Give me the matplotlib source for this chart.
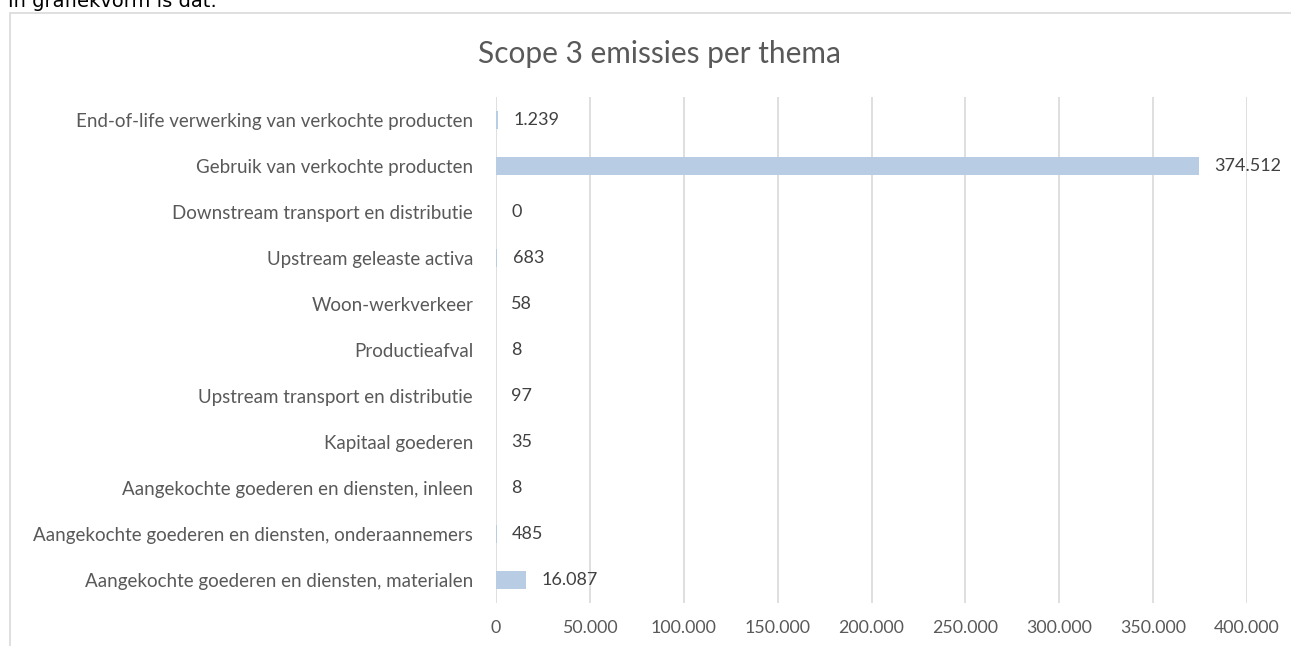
import matplotlib
matplotlib.use("Agg")
import matplotlib.pyplot as plt
from matplotlib.patches import Rectangle
from matplotlib.ticker import FuncFormatter

categories = [
    "Aangekochte goederen en diensten, materialen",
    "Aangekochte goederen en diensten, onderaannemers",
    "Aangekochte goederen en diensten, inleen",
    "Kapitaal goederen",
    "Upstream transport en distributie",
    "Productieafval",
    "Woon-werkverkeer",
    "Upstream geleaste activa",
    "Downstream transport en distributie",
    "Gebruik van verkochte producten",
    "End-of-life verwerking van verkochte producten",
]
values = [16087, 485, 8, 35, 97, 8, 58, 683, 0, 374512, 1239]
xticks = [0, 50000, 100000, 150000, 200000, 250000, 300000, 350000, 400000]
title = "Scope 3 emissies per thema"
intro = "In grafiekvorm is dat:"

W, H = 1291, 646
DPI = 100
plt.rcParams['font.family'] = ['Lato', 'DejaVu Sans']

fig = plt.figure(figsize=(W / DPI, H / DPI), dpi=DPI)

def fx(px):
    return px / W

def fy(py):
    return 1 - py / H

# chart frame
fig.patches.append(Rectangle((fx(10), fy(700)), fx(1400), fy(13) - fy(700),
                             transform=fig.transFigure, fill=False,
                             edgecolor="#d9d9d9", linewidth=1.2, zorder=0))
# cut-off intro sentence above chart
fig.text(fx(8), fy(7), intro, fontsize=14, family="DejaVu Sans",
         color="#000000", ha="left", va="baseline")

ax = fig.add_axes([fx(496), fy(603), fx(1247) - fx(496), fy(97) - fy(603)])
ypos = list(range(len(categories)))
ax.barh(ypos, values, height=0.37, color="#b8cce4", zorder=2)
ax.set_xlim(0, 400000)
ax.set_ylim(-0.5, len(categories) - 0.5)
ax.set_yticks(ypos)
ax.set_yticklabels(categories)
ax.set_xticks(xticks)
ax.xaxis.set_major_formatter(FuncFormatter(lambda v, p: f"{int(v):,}".replace(",", ".")))
ax.grid(axis="x", color="#d9d9d9", linewidth=1.2, zorder=0)
for s in ax.spines.values():
    s.set_visible(False)
ax.tick_params(axis="x", length=0, labelsize=12.8, colors="#595959", pad=12)
ax.tick_params(axis="y", length=0, labelsize=13.5, colors="#595959", pad=16.5)

for y, v in zip(ypos, values):
    ax.annotate(f"{v:,}".replace(",", "."), (v, y), xytext=(11, 0),
                textcoords="offset points", va="center", ha="left",
                fontsize=13, color="#404040", zorder=3)

fig.text(fx(660), fy(54), title, fontsize=21.5, color="#595959",
         ha="center", va="center")

fig.savefig("out.png", dpi=DPI)
